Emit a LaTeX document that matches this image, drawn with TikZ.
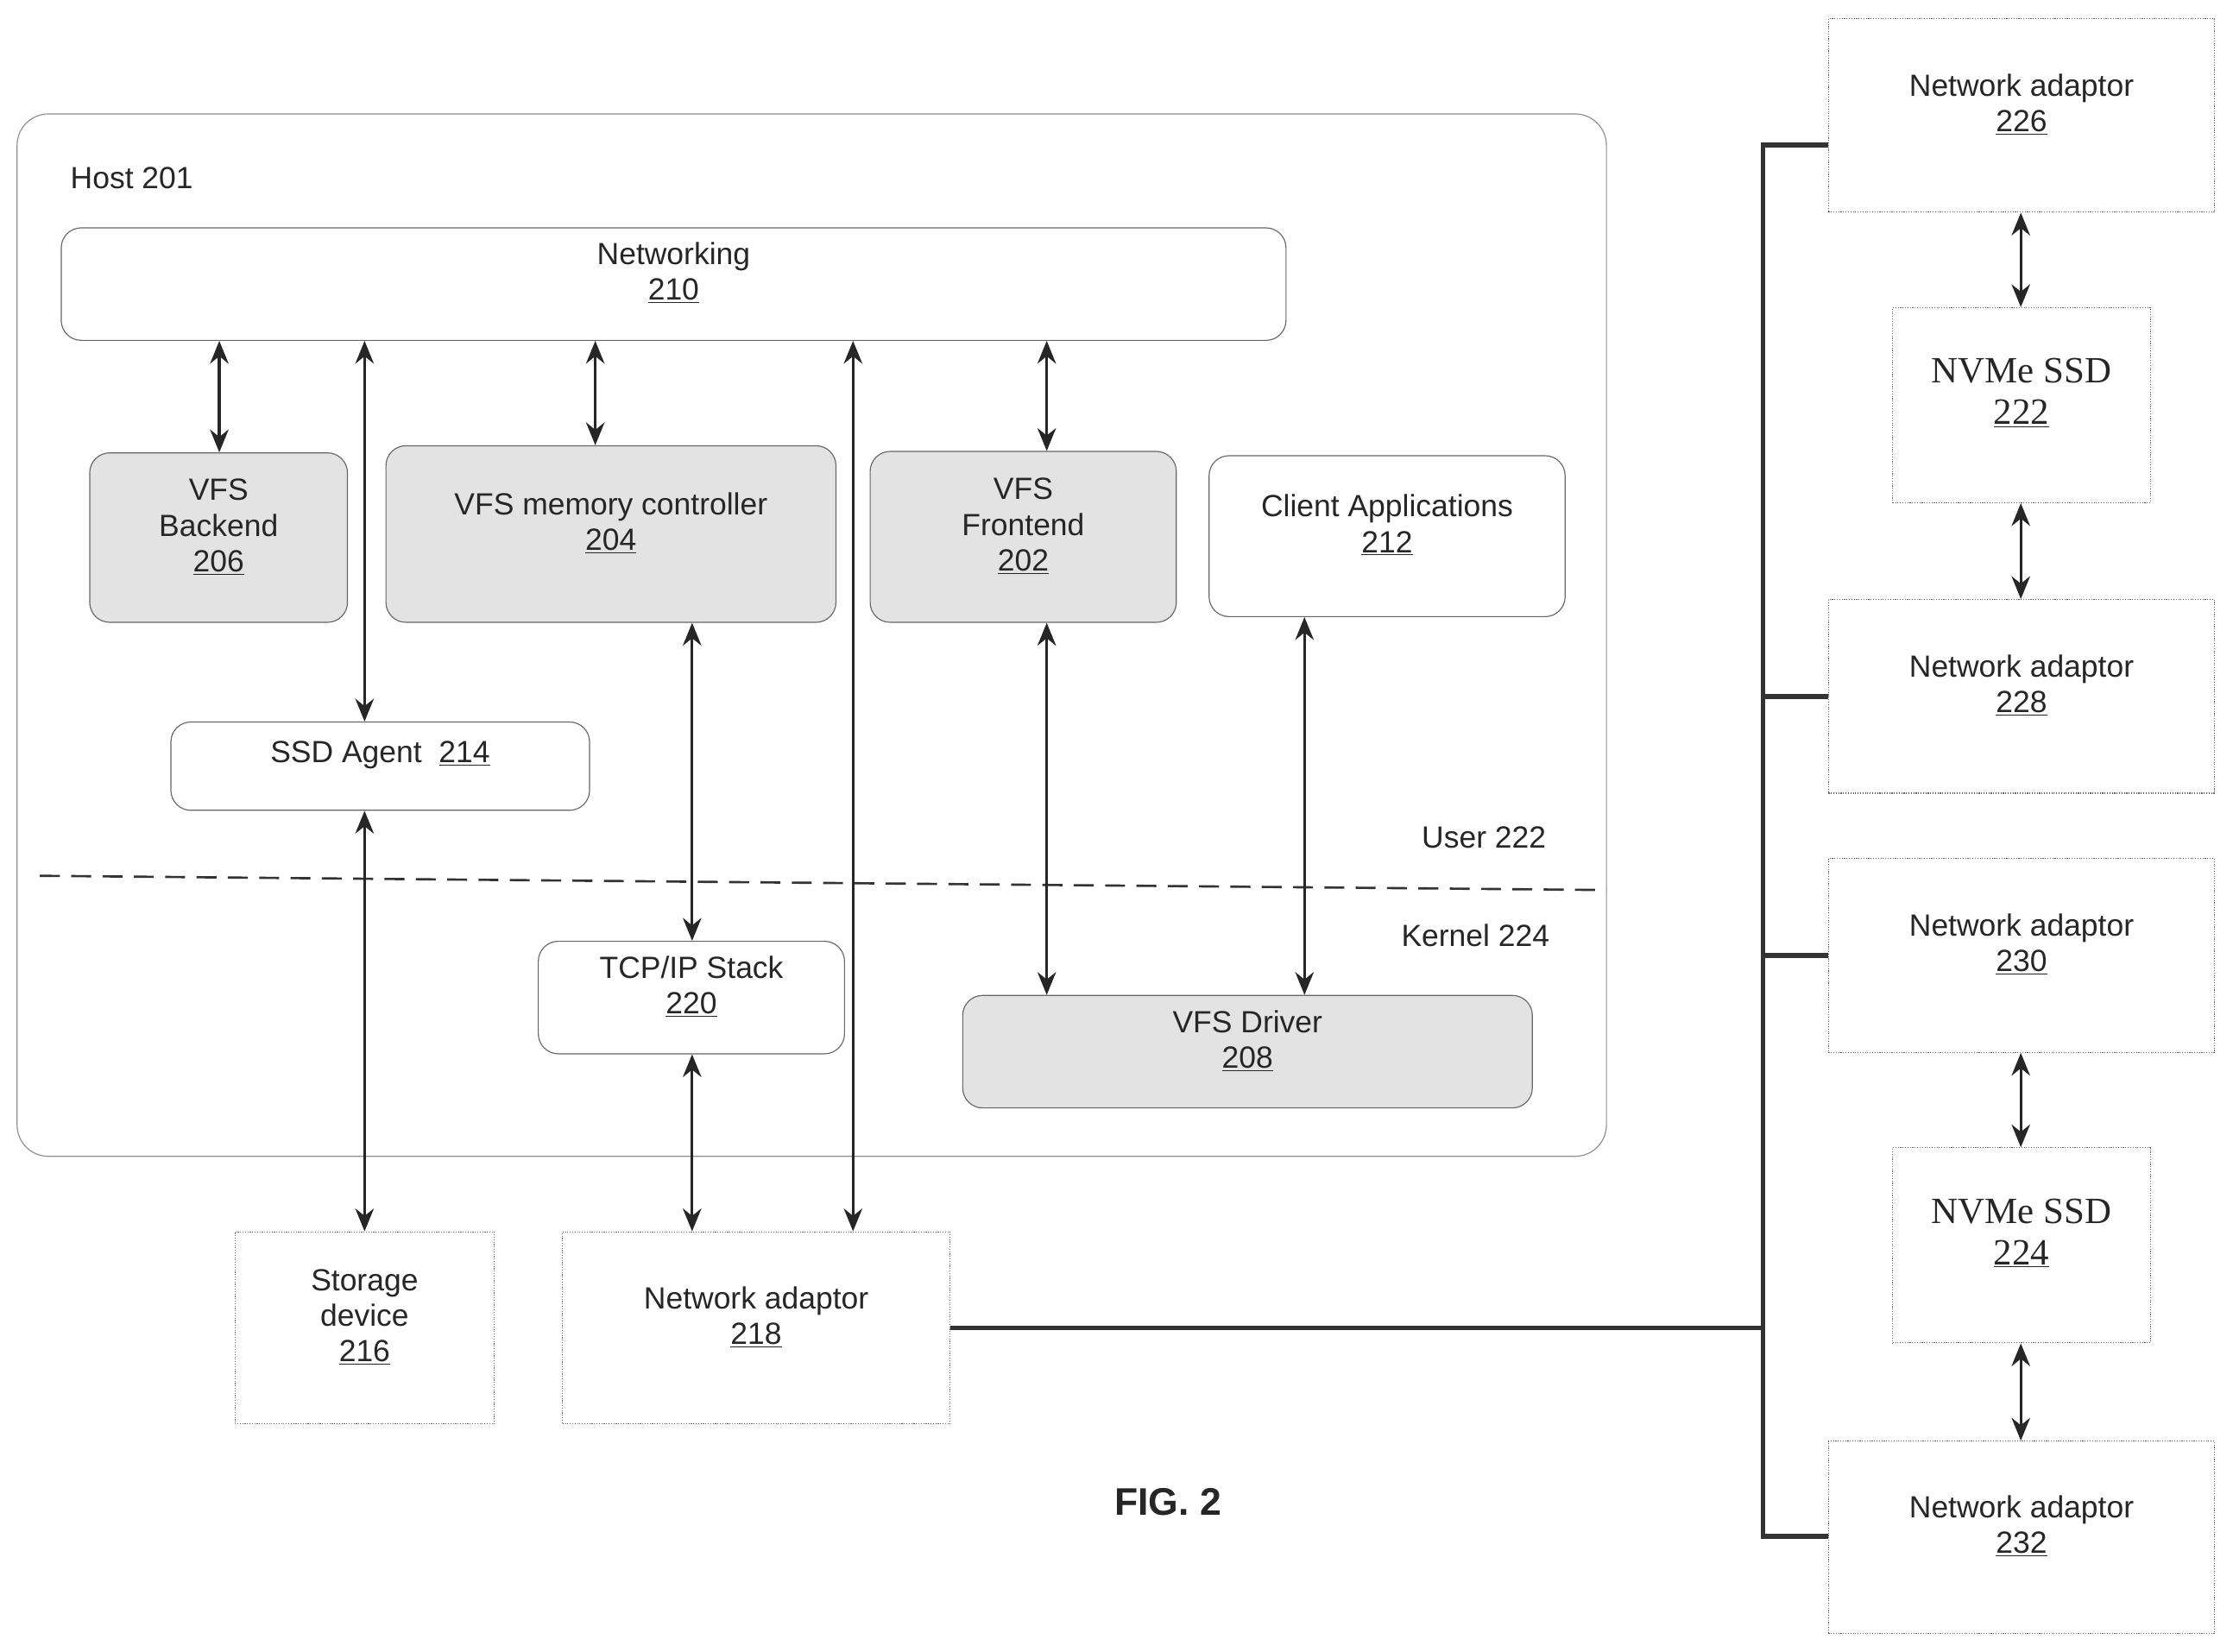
\documentclass[tikz,border=0pt]{standalone}
\usepackage{fontspec}
\setmainfont{Liberation Sans}
\newfontfamily\serifnv{Liberation Serif}
\usetikzlibrary{fit,arrows.meta}
\begin{document}
\begin{tikzpicture}[x=1pt,y=-1pt,
  every node/.style={font=\fontsize{21.5}{25}\selectfont, align=center, text=black!85},
  rbox/.style={draw=black!60, line width=0.7pt, rounded corners=14pt, inner sep=0pt},
  shd/.style={rbox, fill=black!11},
  sbox/.style={draw=black!60, line width=0.7pt, densely dotted, inner sep=0pt},
  arr/.style={draw=black!85, line width=2pt, {Stealth[length=16pt,width=13pt]}-{Stealth[length=16pt,width=13pt]}},
  bus/.style={draw=black!80, line width=3.5pt}]
\useasboundingbox (0,0) rectangle (1568,1160);
\node[rbox, rounded corners=22pt, draw=black!45, fit={(12,80)(1128,812)}] (host) {};
\node[anchor=west] (hostl) at (46,125) {Host 201};
\node[rbox, fit={(43,160)(903,239)}] (net) {Networking\\\underline{210}\\[6pt]};
\node[shd, fit={(63,318)(244,437)}] (be) {VFS\\Backend\\\underline{206}};
\node[shd, fit={(271,313)(587,437)}] (mc) {VFS memory controller\\\underline{204}\\[22pt]};
\node[shd, fit={(611,317)(826,437)}] (fe) {VFS\\Frontend\\\underline{202}};
\node[rbox, fit={(849,320)(1099,433)}] (ca) {Client Applications\\\underline{212}\\[6pt]};
\node[rbox, fit={(120,507)(414,569)}] (ssd) {SSD Agent\ \ \underline{214}};
\draw[black!80, line width=1.6pt, dash pattern=on 14pt off 8pt] (28,615) -- (1128,625);
\node (user) at (1042,588) {User 222};
\node (kern) at (1036,657) {Kernel 224};
\node[rbox, fit={(378,661)(593,740)}] (tcp) {TCP/IP Stack\\\underline{220}\\[6pt]};
\node[shd, fit={(676,699)(1076,778)}] (drv) {VFS Driver\\\underline{208}\\[6pt]};
\node[sbox, fit={(165,865)(347,1000)}] (sto) {Storage\\device\\\underline{216}\\[26pt]};
\node[sbox, fit={(395,865)(667,1000)}] (na218) {Network adaptor\\\underline{218}\\[58pt]};
\node[font=\bfseries\fontsize{27}{30}\selectfont] (fig) at (820,1055) {FIG. 2};
\node[sbox, fit={(1284,13)(1555,149)}] (na226) {Network adaptor\\\underline{226}\\[58pt]};
\node[sbox, fit={(1329,216)(1510,353)}, font=\serifnv\fontsize{26}{29}\selectfont] (nv222) {NVMe SSD\\\underline{222}};
\node[sbox, fit={(1284,421)(1555,557)}] (na228) {Network adaptor\\\underline{228}\\[58pt]};
\node[sbox, fit={(1284,603)(1555,739)}] (na230) {Network adaptor\\\underline{230}\\[58pt]};
\node[sbox, fit={(1329,806)(1510,943)}, font=\serifnv\fontsize{26}{29}\selectfont] (nv224) {NVMe SSD\\\underline{224}};
\node[sbox, fit={(1284,1012)(1555,1147)}] (na232) {Network adaptor\\\underline{232}\\[58pt]};
\foreach \n/\x in {a/154,b/256,c/418,d/599,e/735,f/486,g/916,h/1419,k/1238}{\coordinate (x\n) at (\x,0);}
\draw[arr] (net.south -| xa) -- (be.north -| xa);
\draw[arr] (net.south -| xb) -- (ssd.north -| xb);
\draw[arr] (net.south -| xc) -- (mc.north -| xc);
\draw[arr] (net.south -| xd) -- (na218.north -| xd);
\draw[arr] (net.south -| xe) -- (fe.north -| xe);
\draw[arr] (mc.south -| xf) -- (tcp.north -| xf);
\draw[arr] (fe.south -| xe) -- (drv.north -| xe);
\draw[arr] (ca.south -| xg) -- (drv.north -| xg);
\draw[arr] (ssd.south -| xb) -- (sto.north -| xb);
\draw[arr] (tcp.south -| xf) -- (na218.north -| xf);
\draw[arr] (na226.south -| xh) -- (nv222.north -| xh);
\draw[arr] (nv222.south -| xh) -- (na228.north -| xh);
\draw[arr] (na230.south -| xh) -- (nv224.north -| xh);
\draw[arr] (nv224.south -| xh) -- (na232.north -| xh);
\coordinate (bt) at (1238,102);
\coordinate (bb) at (1238,1079);
\draw[bus] (na226.west |- bt) -- (bt) -- (bb) -- (na232.west |- bb);
\draw[bus] (xk |- na228.west) -- (na228.west);
\draw[bus] (xk |- na230.west) -- (na230.west);
\draw[bus] (na218.east) -- (xk |- na218.east);
\end{tikzpicture}
\end{document}
